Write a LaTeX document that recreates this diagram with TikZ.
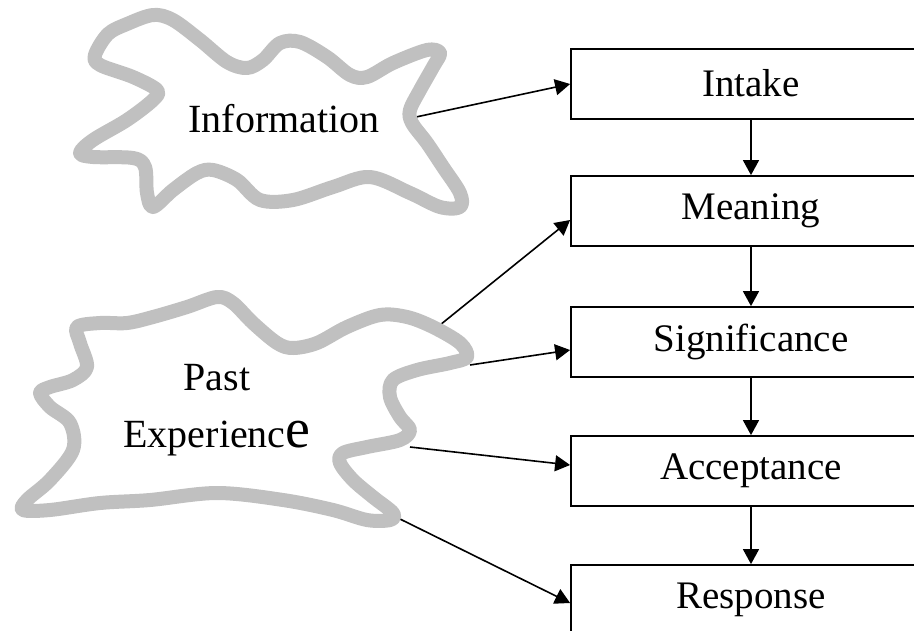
\documentclass[tikz,border=0pt]{standalone}
\usepackage{fontspec}
\setmainfont{Liberation Serif}
\usetikzlibrary{arrows.meta}
\definecolor{blobgray}{HTML}{C0C0C0}
\tikzset{
  stagebox/.style={draw, line width=1.8pt, minimum width=360pt, minimum height=70pt, inner sep=0pt, font=\fontsize{39}{47}\selectfont},
  flow/.style={line width=1.6pt, -{Triangle[length=15pt,width=16pt]}},
  blob/.style={draw=blobgray, line width=14pt, line join=round, fill=white},
  blobtext/.style={inner sep=0pt, align=center}
}
\begin{document}
\begin{tikzpicture}[x=1pt,y=-1pt]
\useasboundingbox (0,0) rectangle (914,630);
\clip (0,0) rectangle (914,630);
\fill[white] (0,0) rectangle (914,630);

% boxes
\node[stagebox] (intake) at (751,84) {\raisebox{3pt}{Intake}};
\node[stagebox] (meaning) at (751,211) {Meaning};
\node[stagebox] (signif) at (751,342) {Significance};
\node[stagebox] (accept) at (751,471) {\raisebox{2pt}{Acceptance}};
\node[stagebox] (resp) at (751,600) {Response};

% free ends on blob outlines
\coordinate (infoR) at (416,117);
\coordinate (pe1) at (440,325);
\coordinate (pe2) at (470,365);
\coordinate (pe3) at (410,447);
\coordinate (pe4) at (400,519);

\draw[flow] (infoR) -- (intake.west);
\draw[flow] (pe1) -- ([yshift=-9pt]meaning.west);
\draw[flow] (pe2) -- ([yshift=-8pt]signif.west);
\draw[flow] (pe3) -- ([yshift=6pt]accept.west);
\draw[flow] (pe4) -- ([yshift=-3pt]resp.west);

\draw[flow] (intake.south) -- (meaning.north);
\draw[flow] (meaning.south) -- (signif.north);
\draw[flow] (signif.south) -- (accept.north);
\draw[flow] (accept.south) -- (resp.north);

% Information blob
\draw[blob] plot[smooth cycle, tension=0.55] coordinates {
(95,55) (108,34) (127,24) (153,15) (173,20) (200,40) (227,62) (247,68)
(263,60) (280,43) (300,42) (327,57) (350,75) (367,77) (393,63) (427,50)
(440,53) (433,67) (420,90) (410,110) (412,123) (427,143) (443,167) (460,193)
(460,207) (440,207) (410,193) (370,177) (333,187) (293,200) (260,200) (237,180)
(213,170) (197,173) (173,190) (153,207) (147,193) (145,167) (133,158) (93,157)
(80,153) (93,140) (127,120) (153,100) (157,90) (133,77) (100,65)};

% Past Experience blob
\draw[blob] plot[smooth cycle, tension=0.55] coordinates {
(77,327) (100,323) (127,323) (153,317) (187,307) (217,297) (233,303) (253,323)
(277,343) (293,348) (317,343) (347,327) (380,315) (407,317) (433,327) (460,343)
(467,357) (450,363) (417,370) (393,380) (390,397) (400,417) (410,430) (400,440)
(367,447) (343,453) (340,463) (353,480) (373,497) (393,513) (390,520) (367,520)
(333,510) (283,500) (217,493) (150,500) (100,503) (50,510) (23,510) (27,500)
(50,480) (73,450) (70,423) (50,407) (40,393) (50,387) (73,380) (87,367) (80,343)};

\node[blobtext, font=\fontsize{40}{48}\selectfont] (info) at (284,119) {Information};
\node[blobtext, font=\fontsize{40}{57}\selectfont] (past) at (217,410)
  {Past\\Experienc{\fontsize{56}{56}\selectfont e}};
\end{tikzpicture}
\end{document}
